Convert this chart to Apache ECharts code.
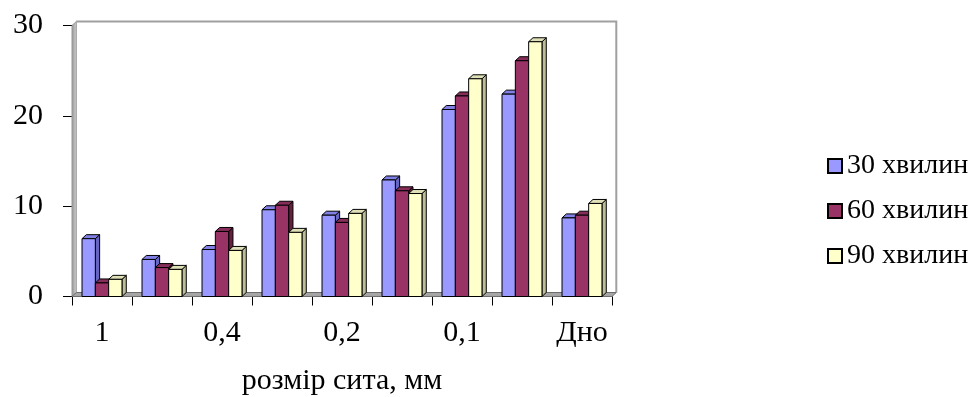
<!DOCTYPE html>
<html>
<head>
<meta charset="utf-8">
<script src="https://cdn.jsdelivr.net/npm/echarts@6/dist/echarts.min.js"></script>
<style>
  html, body { margin: 0; padding: 0; background: #fff; }
  #chart { width: 971px; height: 397px; }
</style>
</head>
<body>
<div id="chart"></div>
<script>
// розмір сита, мм
var categories = ["1", "0,63", "0,4", "0,315", "0,2", "0,16", "0,1", "0,063", "Дно"];
var seriesNames = ["30 хвилин", "60 хвилин", "90 хвилин"];
var min30 = [6.4, 4.1, 5.2, 9.6, 9.0, 12.9, 20.7, 22.4, 8.7];
var min60 = [1.5, 3.2, 7.2, 10.1, 8.2, 11.7, 22.2, 26.1, 9.0];
var min90 = [1.9, 3.0, 5.1, 7.1, 9.2, 11.4, 24.1, 28.2, 10.3];
var yTicks = [0, 10, 20, 30];

var FONT = "'Liberation Serif', 'Times New Roman', serif";
// front / top / side colours for the fake 3D columns
var faceColors = ["#9999FF", "#993366", "#FFFFCC"];
var topColors = ["#8080e6", "#862d59", "#e0e0b8"];
var sideColors = ["#6666c2", "#66203f", "#bdbd99"];
var DX = 4.3, DY = 4;        // depth of the 3D effect
var BAR_FRAC = 0.222;        // one bar = this part of a category band

var chart = echarts.init(document.getElementById("chart"));

function renderBar(params, api) {
  var s = params.seriesIndex;
  var idx = api.value(0);
  var base = api.coord([idx, 0]);
  var top = api.coord([idx, api.value(1)]);
  var band = api.size([1, 0])[0];
  var w = band * BAR_FRAC;
  var x0 = base[0] - 1.5 * w + s * w;
  var x1 = x0 + w;
  var yb = base[1], yt = top[1];
  var line = { stroke: "#000", lineWidth: 1 };
  return {
    type: "group",
    children: [
      {
        type: "polygon",
        shape: { points: [[x1, yb], [x1, yt], [x1 + DX, yt - DY], [x1 + DX, yb - DY]] },
        style: Object.assign({ fill: sideColors[s] }, line)
      },
      {
        type: "polygon",
        shape: { points: [[x0, yt], [x0 + DX, yt - DY], [x1 + DX, yt - DY], [x1, yt]] },
        style: Object.assign({ fill: topColors[s] }, line)
      },
      {
        type: "rect",
        shape: { x: x0, y: yt, width: w, height: yb - yt },
        style: Object.assign({ fill: faceColors[s] }, line)
      }
    ]
  };
}

function toPairs(arr) {
  return arr.map(function (v, i) { return [i, v]; });
}

var allData = [min30, min60, min90];

chart.setOption({
  animation: false,
  textStyle: { fontFamily: FONT },
  grid: {
    left: 72,
    right: 359,
    top: 25.5,
    bottom: 100.5,
    outerBoundsMode: "none"
  },
  legend: {
    orient: "vertical",
    left: 822,
    top: 147,
    itemGap: 17,
    itemWidth: 14,
    itemHeight: 14,
    icon: "rect",
    data: seriesNames,
    itemStyle: { borderColor: "#000", borderWidth: 2 },
    textStyle: { fontFamily: FONT, fontSize: 28, color: "#000" }
  },
  xAxis: {
    type: "category",
    data: categories,
    name: "розмір сита, мм",
    nameLocation: "middle",
    nameGap: 70,
    nameTextStyle: { fontFamily: FONT, fontSize: 30, color: "#000" },
    axisLine: { show: true, lineStyle: { color: "#000", width: 1 } },
    axisTick: { show: true, interval: 0, length: 9, lineStyle: { color: "#000" } },
    axisLabel: { interval: 1, margin: 22, fontFamily: FONT, fontSize: 30, color: "#000" },
    splitLine: { show: false }
  },
  yAxis: {
    type: "value",
    min: yTicks[0],
    max: yTicks[yTicks.length - 1],
    interval: 10,
    axisLine: { show: true, lineStyle: { color: "#000", width: 1 } },
    axisTick: { show: true, length: 9, lineStyle: { color: "#000" } },
    axisLabel: { margin: 29, fontFamily: FONT, fontSize: 30, color: "#000" },
    splitLine: { show: false }
  },
  series: seriesNames.map(function (name, s) {
    return {
      name: name,
      type: "custom",
      renderItem: renderBar,
      itemStyle: { color: faceColors[s] },
      encode: { x: 0, y: 1 },
      data: toPairs(allData[s]),
      z: 3
    };
  })
});

// walls and floor of the 3D plot box, placed from the axes' own scale
var c0 = chart.convertToPixel({ xAxisIndex: 0 }, 0);
var c1 = chart.convertToPixel({ xAxisIndex: 0 }, 1);
var band = c1 - c0;
var xL = c0 - band / 2;
var xR = xL + band * categories.length;
var yB = chart.convertToPixel({ yAxisIndex: 0 }, yTicks[0]);
var yT = chart.convertToPixel({ yAxisIndex: 0 }, yTicks[yTicks.length - 1]);

chart.setOption({
  graphic: [
    {
      type: "polygon",
      z: 1,
      shape: { points: [[xL, yT], [xL + DX, yT - DY], [xL + DX, yB - DY], [xL, yB]] },
      style: {
        fill: new echarts.graphic.LinearGradient(0, 0, 1, 0, [
          { offset: 0, color: "#8c8c8c" },
          { offset: 1, color: "#d9d9d9" }
        ]),
        stroke: "#9a9a9a",
        lineWidth: 1
      }
    },
    {
      type: "polyline",
      z: 1,
      shape: { points: [[xL + DX, yT - DY], [xR + DX, yT - DY], [xR + DX, yB - DY]] },
      style: { stroke: "#a0a0a0", lineWidth: 2, fill: null }
    },
    {
      type: "polygon",
      z: 1,
      shape: { points: [[xL, yB], [xL + DX, yB - DY], [xR + DX, yB - DY], [xR, yB]] },
      style: { fill: "#a6a6a6", stroke: "#6e6e6e", lineWidth: 1 }
    }
  ]
});
</script>
</body>
</html>
